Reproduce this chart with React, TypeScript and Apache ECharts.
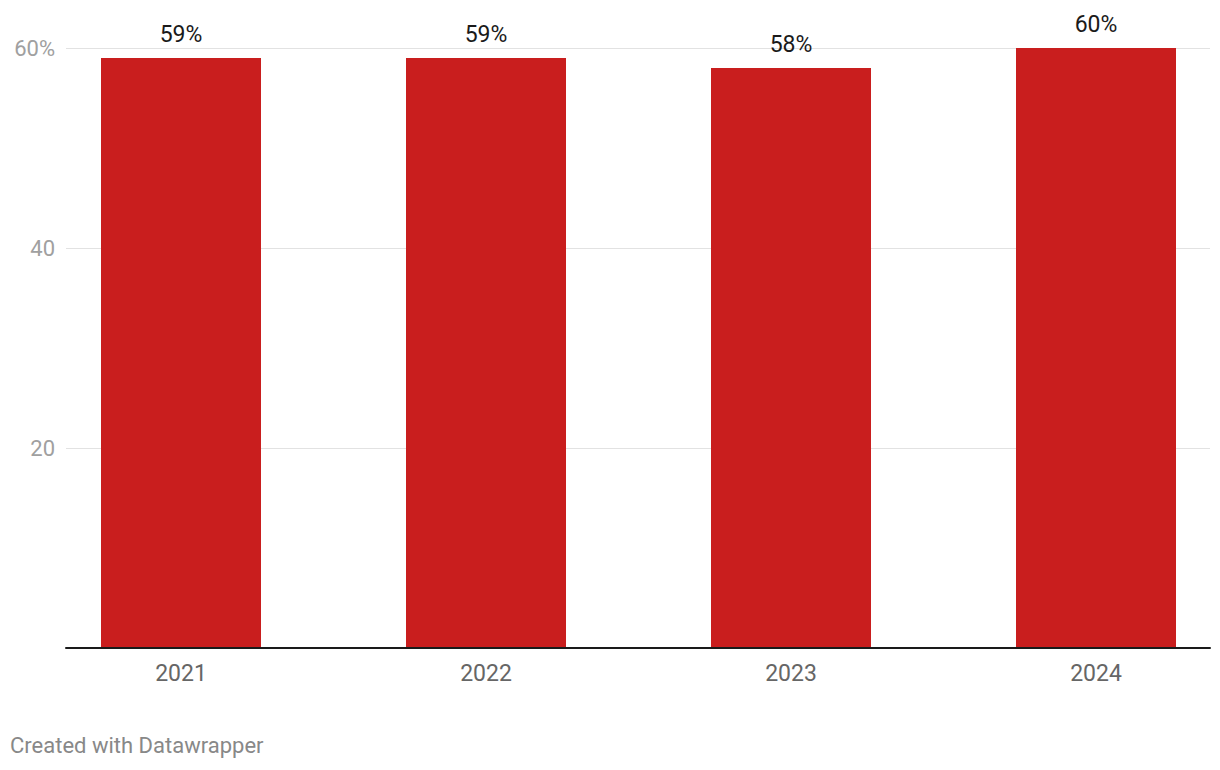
import React, { useEffect, useRef } from "react";
import * as echarts from "echarts";

const years = ["2021", "2022", "2023", "2024"];
const shares = [59, 59, 58, 60];
const yTicks = [0, 20, 40, 60];
const footer = "Created with Datawrapper";

export default function App() {
  const ref = useRef<HTMLDivElement>(null);
  useEffect(() => {
    document.body.style.margin = "0";
    const chart = echarts.init(ref.current!, null, { renderer: "svg" });
    const font = "Roboto";
    chart.setOption({
      animation: false,
      textStyle: { fontFamily: font },
      grid: [
        { left: 66, right: 50, top: 48, bottom: 122 },
        { left: 28.5, right: 11.5, top: 48, bottom: 122 },
      ],
      xAxis: [
        {
          gridIndex: 0,
          type: "category",
          data: years,
          axisLabel: { show: false },
          axisTick: { show: false },
          axisLine: { show: true, lineStyle: { color: "#1a1a1a", width: 2 } },
          z: 10,
        },
        {
          gridIndex: 1,
          type: "category",
          data: years,
          axisLine: { show: false },
          axisTick: { show: false },
          axisLabel: { color: "#666666", fontSize: 23, margin: 14, fontFamily: font },
        },
      ],
      yAxis: [
        {
          gridIndex: 0,
          type: "value",
          min: yTicks[0],
          max: yTicks[yTicks.length - 1],
          interval: 20,
          axisLine: { show: false },
          axisTick: { show: false },
          axisLabel: {
            color: "#a0a0a0",
            fontSize: 22,
            margin: 11,
            fontFamily: font,
            formatter: (v: number) => (v === 0 ? "" : v === 60 ? v + "%" : String(v)),
          },
          splitLine: { show: true, lineStyle: { color: "#e2e2e2", width: 1 } },
        },
        {
          gridIndex: 1,
          type: "value",
          min: 0,
          max: 60,
          interval: 20,
          show: false,
        },
      ],
      series: [
        {
          type: "bar",
          xAxisIndex: 1,
          yAxisIndex: 1,
          data: shares,
          barWidth: 160,
          itemStyle: { color: "#c91e1e" },
          label: {
            show: true,
            position: "top",
            distance: 12,
            color: "#1a1a1a",
            fontSize: 23,
            fontFamily: font,
            formatter: (p: any) => p.value + "%",
          },
          z: 5,
        },
      ],
      graphic: [
        {
          type: "text",
          left: 10,
          top: 734,
          style: { text: footer, fill: "#888888", fontSize: 22, fontFamily: font },
        },
      ],
    });
    return () => chart.dispose();
  }, []);
  return (
    <div style={{ width: 1220, height: 770, overflow: "hidden", position: "relative" }}>
      <div ref={ref} style={{ width: 1260, height: 770 }} />
    </div>
  );
}
